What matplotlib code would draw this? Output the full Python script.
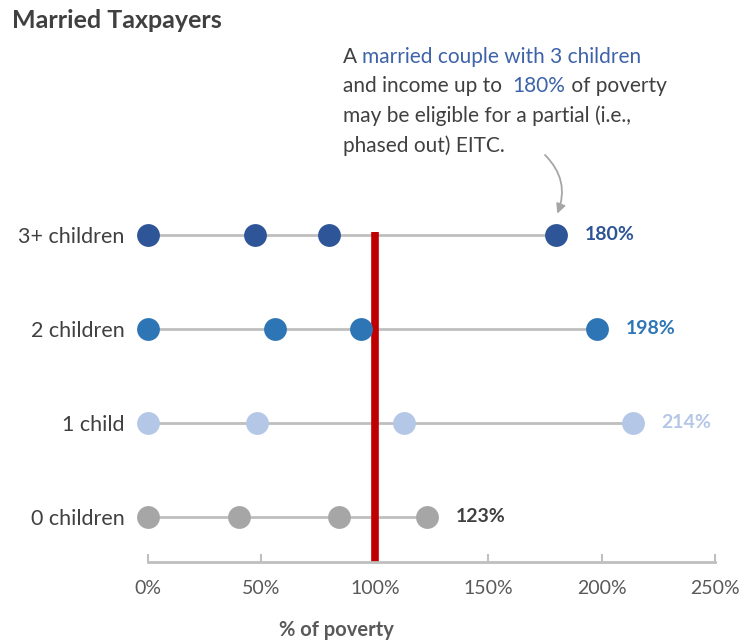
import matplotlib
matplotlib.use("Agg")
import matplotlib.pyplot as plt

plt.rcParams['font.family'] = ['Lato', 'DejaVu Sans']

# EITC phase-out points, % of poverty, married taxpayers
groups = ["0 children", "1 child", "2 children", "3+ children"]
points = [
    [0, 40, 84, 123],
    [0, 48, 113, 214],
    [0, 56, 94, 198],
    [0, 47, 80, 180],
]
colors = ["#A6A6A6", "#B4C7E7", "#2E75B6", "#2E5597"]
label_colors = ["#404040", "#B4C7E7", "#2E75B6", "#2E5597"]
xticks = [0, 50, 100, 150, 200, 250]
poverty_line = 100

DARK = "#404040"
GRID = "#BFBFBF"

fig = plt.figure(figsize=(7.45, 6.44), dpi=100)
W, H = 745, 644
ax = fig.add_axes([148 / W, (H - 562) / H, (715 - 148) / W, (562 - 188) / H])
ax.set_xlim(0, 250)
ax.set_ylim(-0.48, 3.5)

for i, (g, vals) in enumerate(zip(groups, points)):
    ax.plot([0, max(vals)], [i, i], color=GRID, lw=2, zorder=1, clip_on=False)
    ax.scatter(vals, [i] * len(vals), s=270, color=colors[i], zorder=3,
               clip_on=False, linewidths=0)
    ax.text(max(vals) + 12.5, i, f"{max(vals)}%", color=label_colors[i],
            fontsize=14, fontweight="bold", va="center", ha="left")

ax.plot([poverty_line, poverty_line], [-0.48, 3.03], color="#C00000", lw=5.5,
        zorder=2, clip_on=False, solid_capstyle="butt")

ax.set_yticks(range(len(groups)))
ax.set_yticklabels(groups, fontsize=15.5, color=DARK)
ax.tick_params(axis="y", length=0, pad=17)
ax.set_xticks(xticks)
ax.set_xticklabels([f"{t}%" for t in xticks], fontsize=14, color="#595959")
ax.tick_params(axis="x", direction="in", length=6, width=1.5, color=GRID, pad=13)
for s in ["top", "right", "left"]:
    ax.spines[s].set_visible(False)
ax.spines["bottom"].set_color(GRID)
ax.spines["bottom"].set_linewidth(2)

fig.text(336 / W, 1 - 630 / H, "% of poverty", ha="center", va="center",
         fontsize=14.5, fontweight="bold", color="#595959")
fig.text(12 / W, 1 - 21 / H, "Married Taxpayers", ha="left", va="center",
         fontsize=18, fontweight="bold", color=DARK)

# callout with mixed colours
renderer = fig.canvas.get_renderer()
blue = "#3D63A8"
lines = [
    [("A ", DARK), ("married couple with 3 children", blue)],
    [("and income up to  ", DARK), ("180%", blue), (" of poverty", DARK)],
    [("may be eligible for a partial (i.e.,", DARK)],
    [("phased out) EITC.", DARK)],
]
y0 = 57
for row in lines:
    x = 343
    for txt, c in row:
        t = fig.text(x / W, 1 - y0 / H, txt, color=c, fontsize=15,
                     ha="left", va="center")
        bb = t.get_window_extent(renderer)
        x += bb.width
    y0 += 29.5

ax.annotate("", xy=(180, 3.2), xytext=(543 / W, 1 - 153 / H),
            textcoords="figure fraction",
            arrowprops=dict(arrowstyle="-|>", color="#A6A6A6", lw=1.3,
                            connectionstyle="arc3,rad=-0.35",
                            mutation_scale=14))

fig.savefig("out.png", dpi=100, facecolor="white")
